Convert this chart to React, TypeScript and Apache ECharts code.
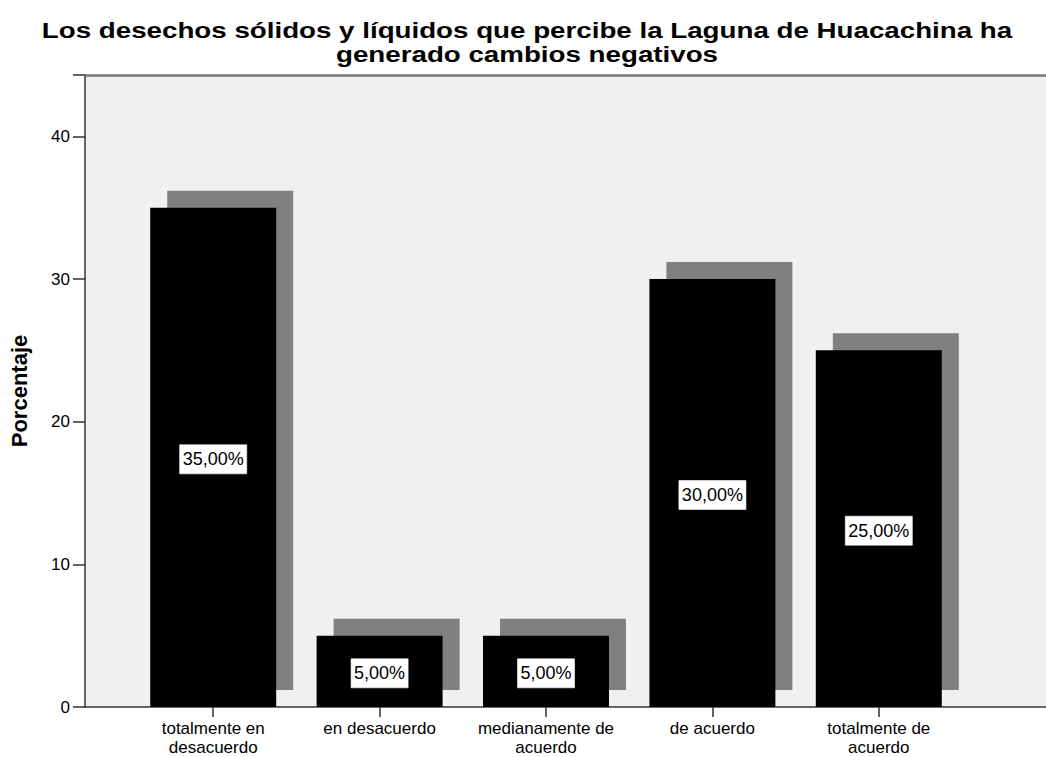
import React, { useEffect, useRef } from "react";
import * as echarts from "echarts";

const categories = [
  "totalmente en\ndesacuerdo",
  "en desacuerdo",
  "medianamente de\nacuerdo",
  "de acuerdo",
  "totalmente de\nacuerdo",
];
const percentages = [35, 5, 5, 30, 25];
const yTicks = [0, 10, 20, 30, 40];
const titleText =
  "Los desechos sólidos y líquidos que percibe la Laguna de Huacachina ha\ngenerado cambios negativos";
const yAxisName = "Porcentaje";

const FONT = "'Liberation Sans', Arial, sans-serif";

export default function App() {
  const ref = useRef<HTMLDivElement>(null);
  useEffect(() => {
    if (!ref.current) return;
    const chart = echarts.init(ref.current, null, { renderer: "svg" });
    const yMax = 44.3;
    const data = percentages.map((v, i) => [i, v]);
    chart.setOption({
      animation: false,
      backgroundColor: "#ffffff",
      graphic: [
        {
          type: "text",
          x: 527,
          y: 19,
          scaleX: 1.29,
          scaleY: 1,
          z: 10,
          style: {
            text: titleText,
            fill: "#000",
            fontFamily: FONT,
            fontWeight: "bold",
            fontSize: 21.5,
            lineHeight: 24,
            align: "center",
            verticalAlign: "top",
          },
        },
      ],
      grid: [
        {
          left: 85, right: 0, top: 75, bottom: 50,
          show: true, backgroundColor: "#f0f0f0", borderWidth: 0,
          containLabel: false, outerBoundsMode: "none",
        },
        {
          left: 130, right: 84, top: 75, bottom: 50,
          containLabel: false, outerBoundsMode: "none",
        },
      ],
      xAxis: [
        {
          gridIndex: 0,
          type: "value",
          min: 0,
          max: 1,
          axisLine: { show: true, lineStyle: { color: "#333", width: 1.5 } },
          axisTick: { show: false },
          axisLabel: { show: false },
          splitLine: { show: false },
        },
        {
          gridIndex: 0,
          type: "value",
          position: "top",
          min: 0,
          max: 1,
          axisLine: { show: true, lineStyle: { color: "#777", width: 2.5 } },
          axisTick: { show: false },
          axisLabel: { show: false },
          splitLine: { show: false },
        },
        {
          gridIndex: 1,
          type: "category",
          data: categories,
          axisLine: { show: false },
          axisTick: { show: true, alignWithLabel: true, length: 10, lineStyle: { color: "#333", width: 1.5 } },
          axisLabel: {
            fontFamily: FONT,
            fontSize: 17,
            lineHeight: 19,
            color: "#000",
            margin: 12,
            interval: 0,
          },
          splitLine: { show: false },
        },
      ],
      yAxis: [
        {
          gridIndex: 0,
          type: "value",
          min: 0,
          max: yMax,
          interval: 10,
          name: yAxisName,
          nameLocation: "middle",
          nameGap: 55,
          nameTextStyle: { fontFamily: FONT, fontWeight: "bold", fontSize: 22, color: "#000" },
          axisLine: { show: true, lineStyle: { color: "#333", width: 1.5 } },
          axisTick: { show: true, length: 12, lineStyle: { color: "#333", width: 1.5 } },
          axisLabel: {
            fontFamily: FONT,
            fontSize: 17,
            color: "#000",
            margin: 15,
            formatter: (v: number) => (yTicks.includes(v) ? String(v) : ""),
          },
          splitLine: { show: false },
        },
        {
          gridIndex: 1,
          type: "value",
          min: 0,
          max: yMax,
          interval: 10,
          show: false,
          splitLine: { show: false },
        },
      ],
      series: [
        {
          type: "custom",
          xAxisIndex: 2,
          yAxisIndex: 1,
          data,
          encode: { x: 0, y: 1 },
          renderItem: (params: any, api: any) => {
            const idx = api.value(0);
            const v = api.value(1);
            const base = api.coord([idx, 0]);
            const top = api.coord([idx, v]);
            const bw = api.size([1, 0])[0] * 0.757;
            const off = 17;
            const h = base[1] - top[1];
            const label = v.toFixed(2).replace(".", ",") + "%";
            return {
              type: "group",
              children: [
                {
                  type: "rect",
                  shape: { x: top[0] - bw / 2 + off, y: top[1] - off, width: bw, height: h },
                  style: { fill: "#808080" },
                },
                {
                  type: "rect",
                  shape: { x: top[0] - bw / 2, y: top[1], width: bw, height: h },
                  style: { fill: "#000000" },
                },
                {
                  type: "text",
                  x: top[0],
                  y: top[1] + h / 2 + 2,
                  style: {
                    text: label,
                    fill: "#000",
                    fontFamily: FONT,
                    fontSize: 18,
                    align: "center",
                    verticalAlign: "middle",
                    backgroundColor: "#ffffff",
                    borderColor: "#999",
                    borderWidth: 0.5,
                    padding: [6, 3, 5, 3],
                  },
                },
              ],
            };
          },
        },
      ],
    });
    return () => chart.dispose();
  }, []);
  return (
    <div
      ref={ref}
      style={{ position: "absolute", left: 0, top: 0, width: 1046, height: 757 }}
    />
  );
}
